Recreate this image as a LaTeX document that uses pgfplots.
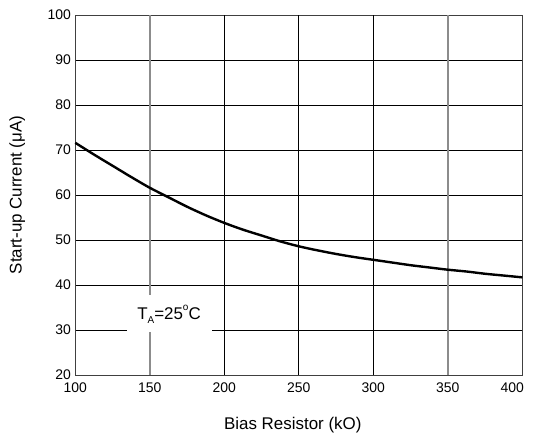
\documentclass[border=0pt]{standalone}
\usepackage{pgfplots}
\pgfplotsset{compat=1.18}
\usepackage{fontspec}
\setmainfont{Liberation Sans}
\begin{document}
\begin{tikzpicture}
\path[use as bounding box] (-75.3bp,-61.7bp) rectangle (459.7bp,375bp);
\begin{axis}[
  scale only axis,
  width=447bp, height=360bp,
  xmin=100, xmax=400, ymin=20, ymax=100,
  xtick={100,150,...,350}, ytick={20,30,...,100},
  extra x ticks={400},
  extra x tick style={xticklabel style={xshift=-10bp}},
  major tick length=0pt,
  axis line style={draw=black!75, line width=0.9pt},
  ymajorgrids=true,
  grid style={black, line width=0.7pt},
  /pgf/number format/assume math mode=true,
  tick label style={font=\fontsize{14}{16}\selectfont},
  xticklabel style={yshift=-4bp},
  yticklabel style={xshift=-1bp},
  xlabel={Bias Resistor (kO)},
  ylabel={Start-up Current (μA)},
  label style={font=\fontsize{17}{20}\selectfont},
  xlabel style={at={(axis description cs:0.5,0)}, anchor=center, yshift=-50bp, xshift=-6bp},
  ylabel style={at={(axis description cs:0,0.5)}, anchor=center, yshift=58bp},
  clip=false,
]
% vertical grid lines
\addplot[black, line width=0.7pt, forget plot] coordinates {(200,20) (200,100)};
\addplot[black, line width=0.7pt, forget plot] coordinates {(250,20) (250,100)};
\addplot[black, line width=0.7pt, forget plot] coordinates {(300,20) (300,100)};
\addplot[black!45, line width=1.5pt, forget plot] coordinates {(150,20) (150,100)};
\addplot[black!45, line width=1.5pt, forget plot] coordinates {(350,20) (350,100)};
% curve
\addplot[black, line width=2.4bp, smooth] coordinates {
(100,71.6) (112.5,69.0) (125,66.5) (137.5,64.0) (150,61.6) (162.5,59.5) (175,57.4)
(187.5,55.5) (200,53.8) (212.5,52.3) (225,51.0) (237.5,49.7) (250,48.6)
(262.5,47.7) (275,46.9) (287.5,46.2) (300,45.6) (312.5,45.0) (325,44.4)
(337.5,43.9) (350,43.4) (362.5,43.0) (375,42.5) (387.5,42.1) (400,41.7)};
\node[fill=white, inner sep=0pt, minimum width=85bp, minimum height=37bp, font=\fontsize{17}{20}\selectfont] at (axis cs:162.9,33.56)
  {T\raisebox{-0.45ex}{\fontsize{10}{11}\selectfont A}=25\raisebox{1.0ex}{\fontsize{10}{11}\selectfont o}C};
\end{axis}
\end{tikzpicture}
\end{document}
